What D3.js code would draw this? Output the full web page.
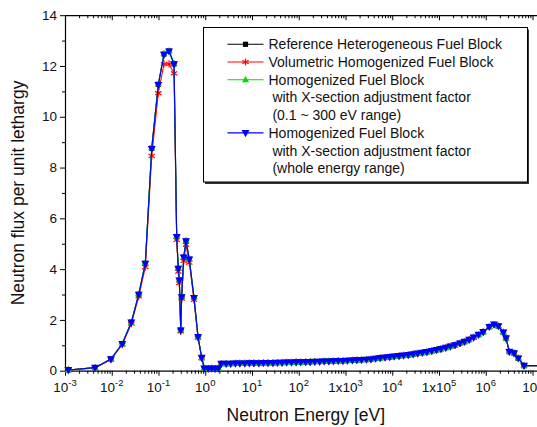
<!DOCTYPE html>
<html>
<head>
<meta charset="utf-8">
<script src="https://cdn.jsdelivr.net/npm/d3@7"></script>
<style>
    body { margin: 0; background: #fff; }
    svg { display: block; font-family: "Liberation Sans", Arial, sans-serif; }
</style>
</head>
<body>
<svg id="chart" width="537" height="427"></svg>
<script>
// ---- data ----
// thermal / resonance region, energies in eV
const thermalEnergy = [1.18e-3, 4.39e-3, 9.6e-3, 0.0168, 0.0262, 0.0377, 0.0522, 0.0716, 0.0991, 0.131,
    0.168, 0.215, 0.245, 0.265, 0.279, 0.299, 0.313, 0.346, 0.387, 0.456,
    0.574, 0.700, 0.839, 0.955, 1.16, 1.37, 1.62, 1.90];
const refThermal = [0.03, 0.12, 0.46, 1.06, 1.91, 3.01, 4.23, 8.76, 11.28, 12.47,
    12.59, 12.08, 5.28, 4.03, 3.57, 1.60, 2.91, 4.47, 5.11, 4.39,
    2.88, 1.34, 0.51, 0.09, 0.08, 0.09, 0.08, 0.09];
const volThermal = [0.03, 0.11, 0.44, 1.03, 1.85, 2.92, 4.08, 8.46, 10.93, 12.08,
    12.08, 11.71, 5.15, 3.90, 3.45, 1.55, 2.84, 4.32, 4.96, 4.25,
    2.79, 1.30, 0.50, 0.09, 0.08, 0.09, 0.08, 0.09];
const partThermal = [0.03, 0.12, 0.46, 1.06, 1.91, 3.02, 4.25, 8.78, 11.30, 12.50,
    12.60, 12.10, 5.30, 4.05, 3.58, 1.61, 2.93, 4.49, 5.13, 4.40,
    2.89, 1.35, 0.51, 0.09, 0.08, 0.09, 0.08, 0.09];
const wholeThermal = [0.03, 0.12, 0.46, 1.06, 1.90, 3.00, 4.22, 8.74, 11.26, 12.45,
    12.58, 12.07, 5.27, 4.02, 3.56, 1.59, 2.90, 4.46, 5.10, 4.38,
    2.87, 1.33, 0.51, 0.09, 0.08, 0.09, 0.08, 0.09];

// epithermal + fast region (all four models sit on top of each other here)
const fastEnergy = [2.2, 2.8, 3.5, 4.4, 5.5, 7.0, 8.8,
    11, 14, 17.5, 22, 28, 35, 44, 55, 70, 88,
    110, 140, 175, 220, 280, 350, 440, 550, 700, 880,
    1.1e3, 1.4e3, 1.75e3, 2.2e3, 2.8e3, 3.5e3, 4.4e3, 5.5e3, 7.0e3, 8.8e3,
    1.1e4, 1.4e4, 1.75e4, 2.2e4, 2.8e4, 3.5e4, 4.4e4, 5.5e4, 7.0e4, 8.8e4,
    1.1e5, 1.4e5, 1.75e5, 2.2e5, 2.8e5, 3.5e5, 4.4e5, 5.5e5, 7.0e5, 8.8e5,
    1.19e6, 1.5e6, 1.86e6, 2.38e6, 2.71e6, 3.19e6, 4.02e6, 4.97e6, 6.58e6, 2e7];
const fastFlux = [0.28, 0.28, 0.28, 0.29, 0.29, 0.29, 0.30,
    0.30, 0.30, 0.31, 0.31, 0.31, 0.32, 0.32, 0.33, 0.33, 0.34,
    0.34, 0.35, 0.35, 0.36, 0.36, 0.37, 0.37, 0.38, 0.39, 0.39,
    0.40, 0.41, 0.42, 0.43, 0.44, 0.45, 0.48, 0.50, 0.52, 0.54,
    0.56, 0.58, 0.60, 0.62, 0.65, 0.68, 0.71, 0.74, 0.78, 0.82,
    0.86, 0.91, 0.96, 1.01, 1.08, 1.14, 1.22, 1.31, 1.42, 1.53,
    1.73, 1.82, 1.76, 1.51, 1.28, 0.75, 0.69, 0.49, 0.20, 0.20];

const seriesColors = ["#000000", "#ff0000", "#00dd00", "#0000ff"];
const seriesMarkers = ["square", "star", "up", "down"];
const seriesThermal = [refThermal, volThermal, partThermal, wholeThermal];

const legendLines = ["Reference Heterogeneous Fuel Block", "Volumetric Homogenized Fuel Block",
    "Homogenized Fuel Block", " with X-section adjustment factor", " (0.1 ~ 300 eV range)",
    "Homogenized Fuel Block", " with X-section adjustment factor", " (whole energy range)"];
const legendSeriesRow = [0, 1, 2, 5];

const xMajor = [1e-3, 1e-2, 1e-1, 1, 10, 100, 1e3, 1e4, 1e5, 1e6, 1e7];
const xLabelBase = ["10", "10", "10", "10", "10", "10", "1x10", "10", "1x10", "10", "10"];
const xLabelExp = ["-3", "-2", "-1", "0", "1", "2", "3", "4", "5", "6", "7"];
const yMajor = [0, 2, 4, 6, 8, 10, 12, 14];

// ---- layout ----
const plot = { left: 65, right: 546.6, top: 15.2, bottom: 370.7 };
const svg = d3.select("#chart");

const x = d3.scaleLog().domain([1e-3, 2e7]).range([plot.left, plot.right]);
const y = d3.scaleLinear().domain([0, 14]).range([plot.bottom, plot.top]);

// minor ticks 2..9 in each decade
let xMinor = [];
xMajor.forEach(d => { for (let k = 2; k <= 9; k++) if (d * k <= 2e7) xMinor.push(d * k); });
let yMinor = d3.range(1, 14, 2);

function drawAxis(g, axis) {
    g.call(axis);
    g.selectAll("text").remove();
    g.selectAll("line").attr("stroke", "#000");
    g.select(".domain").attr("stroke", "#000");
}

// bottom axis (ticks out)
svg.append("g").attr("transform", `translate(0,${plot.bottom})`)
    .call(g => drawAxis(g, d3.axisBottom(x).tickValues(xMinor).tickSize(3).tickSizeOuter(0)))
    .select(".domain").remove();
svg.append("g").attr("transform", `translate(0,${plot.bottom})`)
    .call(g => drawAxis(g, d3.axisBottom(x).tickValues(xMajor).tickSize(5).tickSizeOuter(0)));
// top axis (ticks in)
svg.append("g").attr("transform", `translate(0,${plot.top})`)
    .call(g => drawAxis(g, d3.axisBottom(x).tickValues(xMinor).tickSize(3).tickSizeOuter(0)))
    .select(".domain").remove();
svg.append("g").attr("transform", `translate(0,${plot.top})`)
    .call(g => drawAxis(g, d3.axisBottom(x).tickValues(xMajor).tickSize(5).tickSizeOuter(0)));
// left axis (ticks out)
svg.append("g").attr("transform", `translate(${plot.left},0)`)
    .call(g => drawAxis(g, d3.axisLeft(y).tickValues(yMinor).tickSize(3).tickSizeOuter(0)))
    .select(".domain").remove();
svg.append("g").attr("transform", `translate(${plot.left},0)`)
    .call(g => drawAxis(g, d3.axisLeft(y).tickValues(yMajor).tickSize(5).tickSizeOuter(0)));
// right axis (off the picture, kept for the frame)
svg.append("g").attr("transform", `translate(${plot.right},0)`)
    .call(g => drawAxis(g, d3.axisRight(y).tickValues(yMajor).tickSize(0).tickSizeOuter(0)));

svg.selectAll(".domain").attr("stroke-width", 1.2);

// y tick labels
svg.append("g").selectAll("text")
    .data(yMajor)
    .join("text")
    .attr("x", plot.left - 8)
    .attr("y", d => y(d) + 4.7)
    .attr("text-anchor", "end")
    .attr("font-size", 13.5)
    .attr("fill", "#111")
    .text(d => d);

// x tick labels with superscripts
let xl = svg.append("g").selectAll("text")
    .data(xMajor)
    .join("text")
    .attr("x", d => x(d))
    .attr("y", plot.bottom + 21)
    .attr("text-anchor", "middle")
    .attr("font-size", 13.5)
    .attr("fill", "#111");
xl.append("tspan").text((d, i) => xLabelBase[i]);
xl.append("tspan").attr("dy", -6).attr("font-size", 9.5).text((d, i) => xLabelExp[i]);

// axis titles
svg.append("text")
    .attr("x", (plot.left + plot.right) / 2)
    .attr("y", 421)
    .attr("text-anchor", "middle")
    .attr("font-size", 17.5)
    .attr("fill", "#111")
    .text("Neutron Energy [eV]");
svg.append("text")
    .attr("transform", `translate(24,${(plot.top + plot.bottom) / 2}) rotate(-90)`)
    .attr("text-anchor", "middle")
    .attr("font-size", 17.5)
    .attr("fill", "#111")
    .text("Neutron flux per unit lethargy");

// ---- markers ----
function markerPath(type, s) {
    if (type === "square") return `M${-s},${-s}H${s}V${s}H${-s}Z`;
    if (type === "up") return `M0,${-s * 1.2}L${s * 1.1},${s * 0.8}L${-s * 1.1},${s * 0.8}Z`;
    if (type === "down") return `M0,${s * 1.2}L${s * 1.1},${-s * 0.8}L${-s * 1.1},${-s * 0.8}Z`;
    // asterisk: three crossing strokes
    let a = s * 0.87, b = s * 0.5;
    return `M0,${-s}V${s}M${-a},${-b}L${a},${b}M${-a},${b}L${a},${-b}`;
}
const markerSize = [2.6, 3.6, 3.2, 3.6];

function drawMarker(g, type, i) {
    let p = g.append("path").attr("d", markerPath(type, markerSize[i]));
    if (type === "star") p.attr("fill", "none").attr("stroke", seriesColors[i]).attr("stroke-width", 1.2);
    else p.attr("fill", seriesColors[i]);
    return p;
}

// ---- series ----
const line = d3.line().x(d => x(d[0])).y(d => y(d[1]));
const energies = thermalEnergy.concat(fastEnergy);

let seriesData = seriesThermal.map(t => energies.map((e, j) => [e, j < t.length ? t[j] : fastFlux[j - t.length]]));

// lines first, then markers, so blue ends up on top like the original
seriesData.forEach((data, i) => {
    svg.append("path")
        .datum(data)
        .attr("d", line)
        .attr("fill", "none")
        .attr("stroke", seriesColors[i])
        .attr("stroke-width", 1.1);
    let g = svg.append("g");
    data.forEach(d => {
        let m = g.append("g").attr("transform", `translate(${x(d[0])},${y(d[1])})`);
        drawMarker(m, seriesMarkers[i], i);
    });
});

// ---- legend ----
const lg = svg.append("g");
lg.append("rect")
    .attr("x", 205).attr("y", 29.5).attr("width", 324).attr("height", 154.5)
    .attr("fill", "#333");
lg.append("rect")
    .attr("x", 203.5).attr("y", 27.5).attr("width", 324).attr("height", 154.5)
    .attr("fill", "#fff").attr("stroke", "#000").attr("stroke-width", 1);

const rowY = i => 44.3 + i * 17.72;
lg.selectAll("text")
    .data(legendLines)
    .join("text")
    .attr("x", 268.5)
    .attr("y", (d, i) => rowY(i) + 5)
    .attr("font-size", 14)
    .attr("fill", "#111")
    .attr("xml:space", "preserve")
    .style("white-space", "pre")
    .text(d => d);

legendSeriesRow.forEach((r, i) => {
    lg.append("line")
        .attr("x1", 227.5).attr("x2", 263.5)
        .attr("y1", rowY(r)).attr("y2", rowY(r))
        .attr("stroke", seriesColors[i]).attr("stroke-width", 1.1);
    let m = lg.append("g").attr("transform", `translate(245.5,${rowY(r)})`);
    drawMarker(m, seriesMarkers[i], i);
});
</script>
</body>
</html>
